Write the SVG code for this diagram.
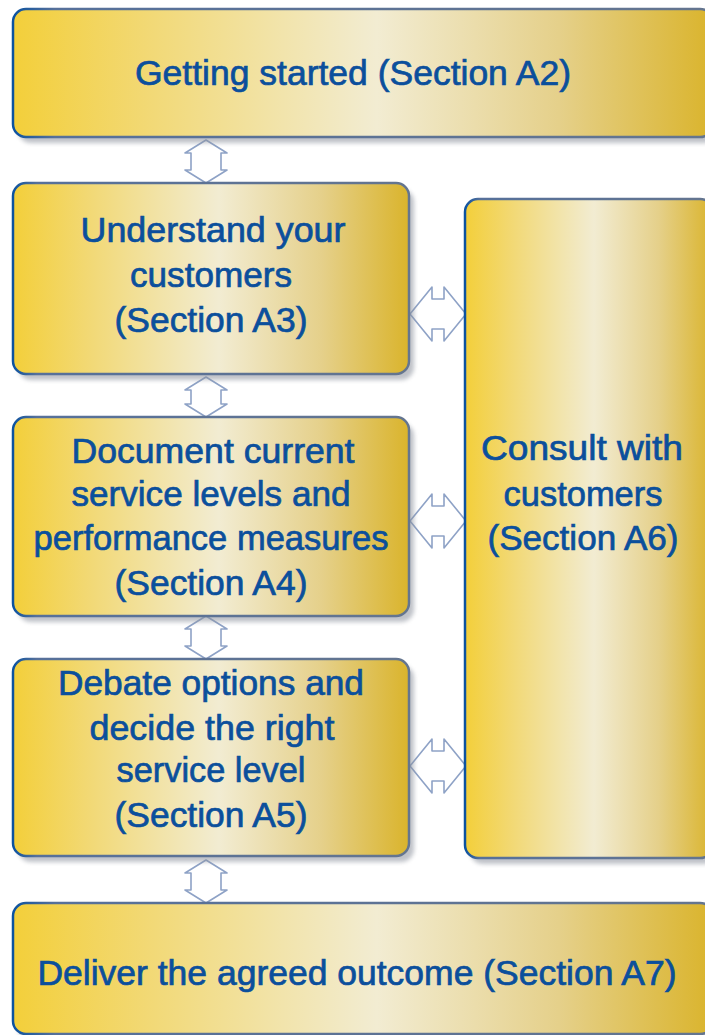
<svg xmlns="http://www.w3.org/2000/svg" width="705" height="1035" viewBox="0 0 705 1035">
  <defs>
    <linearGradient id="gold" x1="0" y1="0" x2="1" y2="0">
      <stop offset="0" stop-color="#f3cf3a"/>
      <stop offset="0.2" stop-color="#f2d977"/>
      <stop offset="0.52" stop-color="#f2ecd2"/>
      <stop offset="0.78" stop-color="#e5d08a"/>
      <stop offset="1" stop-color="#dab42c"/>
    </linearGradient>
    <linearGradient id="edge" x1="0" y1="0" x2="1" y2="0">
      <stop offset="0" stop-color="#0b52a0"/>
      <stop offset="0.06" stop-color="#56709a"/>
      <stop offset="1" stop-color="#64758f"/>
    </linearGradient>
    <filter id="blur" x="-5%" y="-5%" width="110%" height="110%">
      <feGaussianBlur stdDeviation="2"/>
    </filter>
  </defs>
  <style>
    .box { fill: url(#gold); stroke: url(#edge); stroke-width: 2.5; }
    .shadow { fill: #8a909b; opacity: 0.55; filter: url(#blur); }
    .lbl { font-family: "Liberation Sans", Arial, sans-serif; font-size: 35px; fill: #0b4f9c; stroke: #0b4f9c; stroke-width: 0.7; text-anchor: middle; }
    .conn { fill: #ffffff; stroke: #8ea2c6; stroke-width: 1.6; stroke-linejoin: round; }
  </style>
  <rect width="705" height="1035" fill="#ffffff"/>

  <g id="connectors">
    <polygon class="conn" points="206,140 227,153 221,153 221,170 227,170 206,183 185,170 191,170 191,153 185,153"/>
    <polygon class="conn" points="206,377 227,390 221,390 221,404 227,404 206,417 185,404 191,404 191,390 185,390"/>
    <polygon class="conn" points="206,616 227,629 221,629 221,646 227,646 206,659 185,646 191,646 191,629 185,629"/>
    <polygon class="conn" points="206,860 227,873 221,873 221,890 227,890 206,903 185,890 191,890 191,873 185,873"/>
    <polygon class="conn" points="410,314 432,287 432,299 444,299 444,287 466,314 444,341 444,329 432,329 432,341"/>
    <polygon class="conn" points="410,521 432,494 432,506 444,506 444,494 466,521 444,548 444,536 432,536 432,548"/>
    <polygon class="conn" points="410,766 432,739 432,751 444,751 444,739 466,766 444,793 444,781 432,781 432,793"/>
  </g>

  <g id="node-a2">
    <rect class="shadow" x="18" y="15" width="700" height="128" rx="13"/>
    <rect class="box" x="13" y="9" width="700" height="128" rx="13"/>
    <text class="lbl" x="353" y="85" textLength="436" lengthAdjust="spacingAndGlyphs">Getting started (Section A2)</text>
  </g>

  <g id="node-a3">
    <rect class="shadow" x="18" y="189" width="396" height="191" rx="13"/>
    <rect class="box" x="13" y="183" width="396" height="191" rx="13"/>
    <text class="lbl" x="213" y="242" textLength="265" lengthAdjust="spacingAndGlyphs">Understand your</text>
    <text class="lbl" x="211" y="287" textLength="162" lengthAdjust="spacingAndGlyphs">customers</text>
    <text class="lbl" x="211" y="332" textLength="193" lengthAdjust="spacingAndGlyphs">(Section A3)</text>
  </g>

  <g id="node-a4">
    <rect class="shadow" x="18" y="423" width="396" height="199" rx="13"/>
    <rect class="box" x="13" y="417" width="396" height="199" rx="13"/>
    <text class="lbl" x="213" y="463" textLength="283" lengthAdjust="spacingAndGlyphs">Document current</text>
    <text class="lbl" x="211" y="506" textLength="279" lengthAdjust="spacingAndGlyphs">service levels and</text>
    <text class="lbl" x="211" y="550" textLength="355" lengthAdjust="spacingAndGlyphs">performance measures</text>
    <text class="lbl" x="211" y="595" textLength="193" lengthAdjust="spacingAndGlyphs">(Section A4)</text>
  </g>

  <g id="node-a5">
    <rect class="shadow" x="18" y="665" width="396" height="197" rx="13"/>
    <rect class="box" x="13" y="659" width="396" height="197" rx="13"/>
    <text class="lbl" x="211" y="695" textLength="306" lengthAdjust="spacingAndGlyphs">Debate options and</text>
    <text class="lbl" x="212" y="740" textLength="245" lengthAdjust="spacingAndGlyphs">decide the right</text>
    <text class="lbl" x="211" y="782" textLength="189" lengthAdjust="spacingAndGlyphs">service level</text>
    <text class="lbl" x="211" y="827" textLength="193" lengthAdjust="spacingAndGlyphs">(Section A5)</text>
  </g>

  <g id="node-a6">
    <rect class="shadow" x="470" y="205" width="248" height="659" rx="13"/>
    <rect class="box" x="465" y="199" width="248" height="659" rx="13"/>
    <text class="lbl" x="582" y="460" textLength="202" lengthAdjust="spacingAndGlyphs">Consult with</text>
    <text class="lbl" x="583" y="506" textLength="159" lengthAdjust="spacingAndGlyphs">customers</text>
    <text class="lbl" x="583" y="550" textLength="191" lengthAdjust="spacingAndGlyphs">(Section A6)</text>
  </g>

  <g id="node-a7">
    <rect class="shadow" x="18" y="909" width="700" height="131" rx="13"/>
    <rect class="box" x="13" y="903" width="700" height="131" rx="13"/>
    <text class="lbl" x="357" y="985" textLength="639" lengthAdjust="spacingAndGlyphs">Deliver the agreed outcome (Section A7)</text>
  </g>
</svg>
